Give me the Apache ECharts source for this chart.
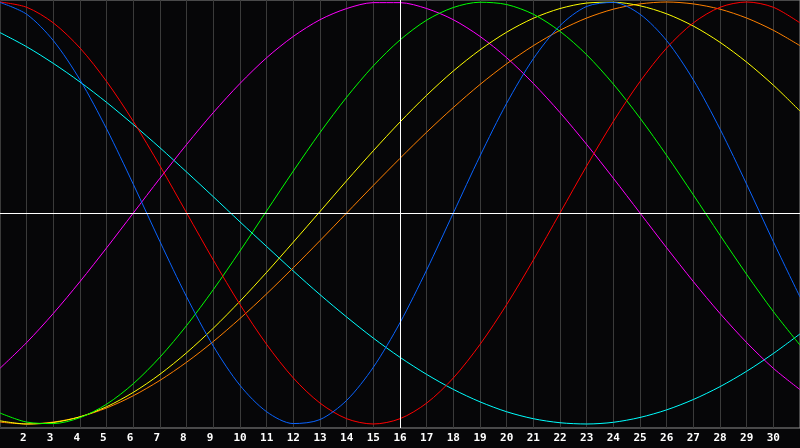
<!DOCTYPE html>
<html>
<head>
<meta charset="utf-8">
<script src="https://cdn.jsdelivr.net/npm/echarts@6/dist/echarts.min.js"></script>
<style>
html,body{margin:0;padding:0;background:#060608;}
#chart{width:800px;height:448px;}
</style>
</head>
<body>
<div id="chart"></div>
<script>
const days = [1,2,3,4,5,6,7,8,9,10,11,12,13,14,15,16,17,18,19,20,21,22,23,24,25,26,27,28,29,30,31];

const red = [1.000,0.975,0.901,0.782,0.623,0.434,0.223,0.000,-0.223,-0.434,-0.623,-0.782,-0.901,-0.975,-1.000,-0.975,-0.901,-0.782,-0.623,-0.434,-0.223,0.000,0.223,0.434,0.623,0.782,0.901,0.975,1.000,0.975,0.901];

const blue = [0.998,0.942,0.817,0.631,0.398,0.136,-0.136,-0.398,-0.631,-0.817,-0.942,-0.998,-0.979,-0.888,-0.731,-0.520,-0.270,0.000,0.270,0.520,0.731,0.888,0.979,0.998,0.942,0.817,0.631,0.398,0.136,-0.136,-0.398];

const magenta = [-0.736,-0.614,-0.476,-0.325,-0.165,0.000,0.165,0.325,0.476,0.614,0.736,0.837,0.916,0.969,0.997,0.997,0.969,0.916,0.837,0.736,0.614,0.476,0.325,0.165,0.000,-0.165,-0.325,-0.476,-0.614,-0.736,-0.837];

const green = [-0.948,-0.991,-0.998,-0.970,-0.906,-0.809,-0.683,-0.533,-0.363,-0.180,0.010,0.199,0.381,0.549,0.697,0.820,0.914,0.974,0.999,0.988,0.942,0.861,0.750,0.611,0.450,0.273,0.086,-0.105,-0.291,-0.467,-0.626];

const yellow = [-0.985,-1.000,-0.993,-0.966,-0.918,-0.850,-0.764,-0.662,-0.546,-0.418,-0.281,-0.138,0.007,0.153,0.295,0.431,0.558,0.673,0.773,0.857,0.923,0.969,0.995,0.999,0.982,0.944,0.886,0.809,0.715,0.606,0.483];

const orange = [-0.991,-1.000,-0.991,-0.966,-0.924,-0.866,-0.793,-0.707,-0.609,-0.500,-0.383,-0.259,-0.131,0.000,0.131,0.259,0.383,0.500,0.609,0.707,0.793,0.866,0.924,0.966,0.991,1.000,0.991,0.966,0.924,0.866,0.793];

const cyan = [0.855,0.788,0.709,0.621,0.524,0.419,0.309,0.194,0.077,-0.042,-0.159,-0.275,-0.387,-0.493,-0.593,-0.684,-0.765,-0.836,-0.895,-0.942,-0.975,-0.994,-1.000,-0.992,-0.969,-0.933,-0.884,-0.823,-0.750,-0.666,-0.573];

const xTickLabels = [2,3,4,5,6,7,8,9,10,11,12,13,14,15,16,17,18,19,20,21,22,23,24,25,26,27,28,29,30];
const markDay = 16;
const markLevel = 0;

function pairs(arr){ return days.map((d,i)=>[d,arr[i]]); }

const seriesDefs = [
  {name:'cyan', data:cyan, color:'#00ffff'},
  {name:'magenta', data:magenta, color:'#ff00ff'},
  {name:'orange', data:orange, color:'#ff8000'},
  {name:'yellow', data:yellow, color:'#ffff00'},
  {name:'green', data:green, color:'#00ff00'},
  {name:'red', data:red, color:'#ff0000'},
  {name:'blue', data:blue, color:'#0a64ff'}
];

const chart = echarts.init(document.getElementById('chart'), null, {renderer:'canvas'});

const series = seriesDefs.map(s => ({
  name: s.name,
  type: 'line',
  data: pairs(s.data),
  smooth: 0.3,
  showSymbol: false,
  symbol: 'none',
  lineStyle: {color: s.color, width: 1},
  itemStyle: {color: s.color},
  z: 3
}));

series.push({
  name: 'marks',
  type: 'line',
  data: [],
  silent: true,
  z: 2,
  markLine: {
    silent: true,
    symbol: 'none',
    label: {show: false},
    lineStyle: {color: '#ffffff', width: 1, type: 'solid'},
    data: [{xAxis: markDay}, {yAxis: markLevel}]
  }
});

chart.setOption({
  animation: false,
  backgroundColor: '#060608',
  grid: {left: 0, right: 0, top: 0, bottom: 20, show: true, borderColor: '#8c8c8c', borderWidth: 1, backgroundColor: 'transparent'},
  xAxis: {
    type: 'value',
    min: 1,
    max: 31,
    interval: 1,
    axisLine: {show: true, lineStyle: {color: '#a0a0a0', width: 1}},
    axisTick: {show: false},
    splitLine: {show: true, lineStyle: {color: '#3a3a3a', width: 1}},
    axisLabel: {
      show: true,
      showMinLabel: false,
      showMaxLabel: false,
      color: '#ffffff',
      fontFamily: 'DejaVu Sans Mono',
      fontWeight: 'bold',
      fontSize: 11,
      margin: 5,
      formatter: function(v){
        if (xTickLabels.indexOf(v) < 0) return '';
        return v < 10 ? (v + ' ') : String(v);
      }
    }
  },
  yAxis: {
    type: 'value',
    min: -1.019,
    max: 1.0095,
    axisLine: {show: false},
    axisTick: {show: false},
    axisLabel: {show: false},
    splitLine: {show: false}
  },
  series: series
});
</script>
</body>
</html>
